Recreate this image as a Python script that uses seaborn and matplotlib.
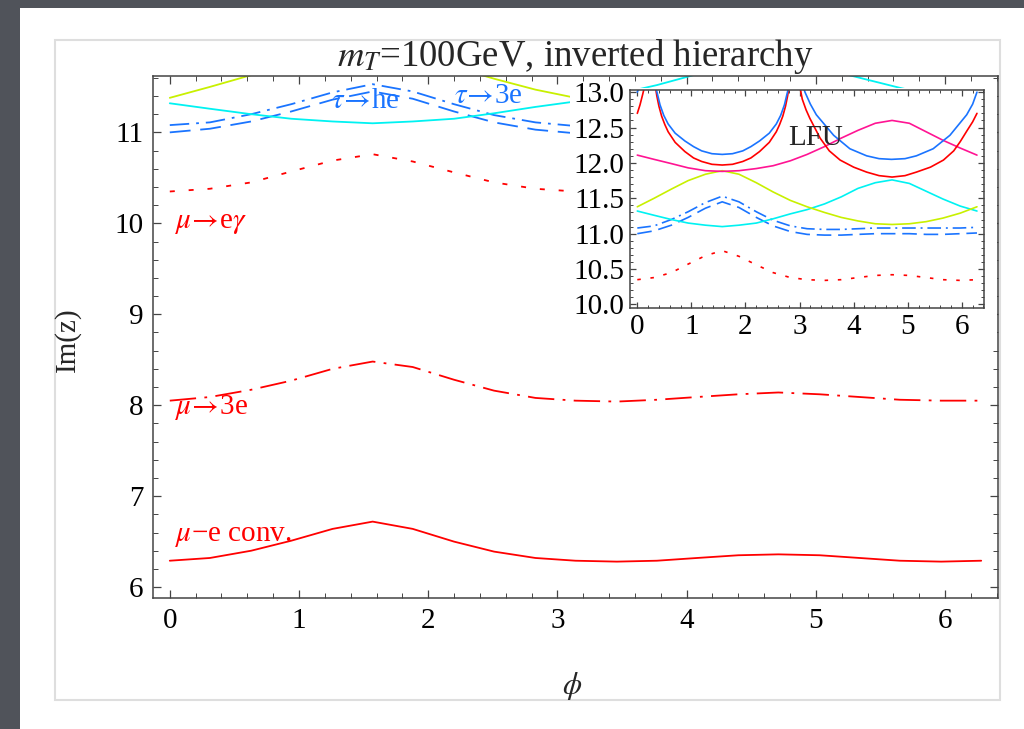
"""
Im(z) bounds vs phi, m_T = 100 GeV, inverted hierarchy (with LFU inset)
"""

import numpy as np
import pandas as pd
import matplotlib
matplotlib.use('Agg')
import matplotlib.pyplot as plt
import seaborn as sns
from matplotlib.patches import Rectangle
from matplotlib.ticker import MultipleLocator, FormatStrFormatter

sns.set_style('ticks')
plt.rcParams['font.family'] = ['Liberation Serif', 'DejaVu Serif']
plt.rcParams['mathtext.fontset'] = 'stix'
plt.rcParams['lines.scale_dashes'] = False

# ---- data ----
phi = [0.00, 0.31, 0.63, 0.94, 1.26, 1.57, 1.88, 2.20, 2.51, 2.83, 3.14,
       3.46, 3.77, 4.08, 4.40, 4.71, 5.03, 5.34, 5.65, 5.97, 6.28]

mu_e_conv = [6.29, 6.32, 6.40, 6.51, 6.64, 6.72, 6.64, 6.50, 6.39, 6.32, 6.29,
             6.28, 6.29, 6.32, 6.35, 6.36, 6.35, 6.32, 6.29, 6.28, 6.29]
mu_3e = [8.05, 8.09, 8.17, 8.27, 8.40, 8.48, 8.42, 8.28, 8.16, 8.08, 8.05,
         8.04, 8.06, 8.09, 8.12, 8.14, 8.12, 8.09, 8.06, 8.05, 8.05]
mu_egamma = [10.35, 10.38, 10.45, 10.57, 10.69, 10.76, 10.68, 10.56, 10.45, 10.38, 10.35,
             10.34, 10.35, 10.38, 10.41, 10.42, 10.41, 10.38, 10.35, 10.34, 10.35]
tau_he = [11.00, 11.04, 11.12, 11.23, 11.36, 11.45, 11.37, 11.23, 11.11, 11.03, 10.99,
          10.98, 10.98, 10.99, 11.00, 11.00, 11.00, 10.99, 10.99, 11.00, 11.01]
tau_3e = [11.08, 11.11, 11.20, 11.31, 11.44, 11.53, 11.45, 11.31, 11.19, 11.11, 11.07,
          11.06, 11.06, 11.07, 11.08, 11.08, 11.08, 11.08, 11.08, 11.08, 11.09]
cyan_curve = [11.32, 11.26, 11.20, 11.15, 11.12, 11.10, 11.12, 11.15, 11.21, 11.28, 11.34,
              11.42, 11.52, 11.64, 11.72, 11.76, 11.71, 11.60, 11.49, 11.39, 11.32]
yellow_curve = [11.38, 11.50, 11.63, 11.75, 11.84, 11.89, 11.84, 11.72, 11.59, 11.47, 11.38,
                11.30, 11.23, 11.18, 11.14, 11.13, 11.14, 11.17, 11.22, 11.29, 11.38]
magenta_curve = [12.11, 12.05, 11.99, 11.93, 11.89, 11.88, 11.89, 11.92, 11.96, 12.03, 12.12,
                 12.23, 12.35, 12.46, 12.56, 12.60, 12.56, 12.44, 12.32, 12.21, 12.11]

# LFU arcs (separate branches between the poles)
red_phi_a = [0.00, 0.05, 0.10, 0.14]
red_a = [12.70, 12.82, 12.97, 13.10]
red_phi_b = [0.33, 0.36, 0.40, 0.45, 0.51, 0.57, 0.70, 0.88, 1.04, 1.19, 1.38, 1.57,
             1.76, 1.95, 2.10, 2.26, 2.44, 2.57, 2.63, 2.69, 2.74, 2.78, 2.81]
red_b = [13.10, 12.95, 12.80, 12.66, 12.54, 12.44, 12.29, 12.16, 12.07, 12.02, 11.98, 11.97,
         11.98, 12.02, 12.07, 12.16, 12.29, 12.44, 12.54, 12.66, 12.80, 12.95, 13.10]
red_phi_c = [3.00, 3.05, 3.12, 3.19, 3.38, 3.55, 3.75, 4.00, 4.24, 4.47, 4.71,
             4.95, 5.16, 5.42, 5.66, 5.85, 5.97, 6.10, 6.20, 6.28]
red_c = [13.10, 12.90, 12.75, 12.63, 12.35, 12.17, 12.04, 11.94, 11.87, 11.82, 11.80,
         11.82, 11.87, 11.94, 12.04, 12.17, 12.30, 12.46, 12.58, 12.70]

blue_phi_a = [0.00, 0.05]
blue_a = [13.00, 13.10]
blue_phi_b = [0.33, 0.37, 0.42, 0.49, 0.57, 0.70, 0.88, 1.04, 1.19, 1.38, 1.57,
              1.76, 1.95, 2.10, 2.26, 2.44, 2.57, 2.65, 2.72, 2.77, 2.81]
blue_b = [13.10, 12.98, 12.82, 12.67, 12.55, 12.42, 12.31, 12.23, 12.17, 12.13, 12.12,
          12.13, 12.17, 12.23, 12.31, 12.42, 12.55, 12.67, 12.82, 12.98, 13.10]
blue_phi_c = [3.06, 3.10, 3.20, 3.31, 3.63, 3.93, 4.24, 4.47, 4.70,
              4.95, 5.16, 5.47, 5.78, 6.09, 6.20, 6.28]
blue_c = [13.10, 13.00, 12.83, 12.68, 12.39, 12.20, 12.10, 12.06, 12.05,
          12.06, 12.10, 12.20, 12.39, 12.68, 12.83, 13.00]

RED = '#ff0000'
BLUE = '#1a74ff'
CYAN = '#00f2f2'
YELLOW = '#c8f000'
MAGENTA = '#ff1493'


def draw_curves(ax, s=1.0, lw=1.3):
    sol = '-'
    dashdot = (0, (19 * s, 6 * s, 2 * s, 6 * s))
    dotted = (0, (3.6 * s, 10 * s))
    dashed = (0, (15 * s, 7 * s))
    dashdot_b = (0, (14 * s, 5 * s, 2 * s, 5 * s))
    series = [
        (phi, mu_e_conv, RED, sol),
        (phi, mu_3e, RED, dashdot),
        (phi, mu_egamma, RED, dotted),
        (phi, tau_he, BLUE, dashed),
        (phi, tau_3e, BLUE, dashdot_b),
        (phi, cyan_curve, CYAN, sol),
        (phi, yellow_curve, YELLOW, sol),
        (phi, magenta_curve, MAGENTA, sol),
        (red_phi_a, red_a, RED, sol),
        (red_phi_b, red_b, RED, sol),
        (red_phi_c, red_c, RED, sol),
        (blue_phi_a, blue_a, BLUE, sol),
        (blue_phi_b, blue_b, BLUE, sol),
        (blue_phi_c, blue_c, BLUE, sol),
    ]
    for xs, ys, col, ls in series:
        df = pd.DataFrame({'phi': xs, 'val': ys})
        sns.lineplot(data=df, x='phi', y='val', ax=ax, color=col, linestyle=ls,
                     linewidth=lw, sort=False, estimator=None)


def frame_style(ax, minor_y, label_size):
    ax.tick_params(which='both', direction='in', top=True, right=True,
                   labelsize=label_size, colors='#444444', labelcolor='black')
    ax.tick_params(which='major', length=6, width=0.9, pad=7)
    ax.tick_params(which='minor', length=3.5, width=0.7)
    ax.xaxis.set_major_locator(MultipleLocator(1))
    ax.xaxis.set_minor_locator(MultipleLocator(0.2))
    ax.yaxis.set_minor_locator(MultipleLocator(minor_y))
    for sp in ax.spines.values():
        sp.set_color('#444444')
        sp.set_linewidth(1.1)
    ax.set_xlabel('')
    ax.set_ylabel('')


W, H = 1024, 729
fig = plt.figure(figsize=(W / 100, H / 100), dpi=100)
fig.patch.set_facecolor('#50535a')
fig.patches.append(Rectangle((20 / W, 0), 1, 1 - 8 / H, transform=fig.transFigure,
                             facecolor='white', edgecolor='none', zorder=-2))
fig.patches.append(Rectangle((55 / W, 1 - 700 / H), 945 / W, 660 / H, transform=fig.transFigure,
                             facecolor='white', edgecolor='#dedede', linewidth=1.5, zorder=-1))

# main panel
ax = fig.add_axes([153 / W, 1 - 598 / H, 845 / W, 522 / H])
ax.patch.set_alpha(0)
draw_curves(ax)
ax.set_xlim(-0.13, 6.41)
ax.set_ylim(5.88, 11.62)
ax.yaxis.set_major_locator(MultipleLocator(1))
frame_style(ax, 0.2, 21)
ax.set_title(r'$m_T$=100GeV, inverted hierarchy', fontsize=26.5, pad=0)
fig.text(67 / W, 1 - 340 / H, 'Im(z)', rotation=90, ha='center', va='center', fontsize=21)
fig.text(572 / W, 1 - 686 / H, r'$\phi$', ha='center', va='center', fontsize=22)

ARROW = r'$\!\rightarrow\!$'
ax.text(0.04, 10.0, r'$\mu$' + ARROW + r'e$\gamma$', color=RED, fontsize=21, va='center')
ax.text(0.04, 7.97, r'$\mu$' + ARROW + '3e', color=RED, fontsize=21, va='center')
ax.text(0.04, 6.56, r'$\mu$−e conv.', color=RED, fontsize=21, va='center')
ax.text(1.25, 11.34, r'$\tau$' + ARROW + 'he', color=BLUE, fontsize=21, va='center')
ax.text(2.2, 11.40, r'$\tau$' + ARROW + '3e', color=BLUE, fontsize=21, va='center')

# white patch behind the inset (covers its tick labels too)
fig.patches.append(Rectangle((570 / W, 1 - 345 / H), 427 / W, 257 / H, transform=fig.transFigure,
                             facecolor='white', edgecolor='none', zorder=2))

# inset panel
axi = fig.add_axes([630 / W, 1 - 308 / H, 354 / W, 218 / H])
axi.set_zorder(3)
draw_curves(axi, s=0.7, lw=1.2)
axi.set_xlim(-0.135, 6.41)
axi.set_ylim(9.95, 13.03)
axi.yaxis.set_major_locator(MultipleLocator(0.5))
axi.yaxis.set_major_formatter(FormatStrFormatter('%.1f'))
frame_style(axi, 0.1, 21)
axi.tick_params(which='major', length=4.5, pad=4)
axi.tick_params(which='minor', length=2.5)
axi.text(3.29, 12.35, 'LFU', fontsize=21, ha='center', va='center')

fig.savefig('out.png', dpi=100, facecolor=fig.get_facecolor())
